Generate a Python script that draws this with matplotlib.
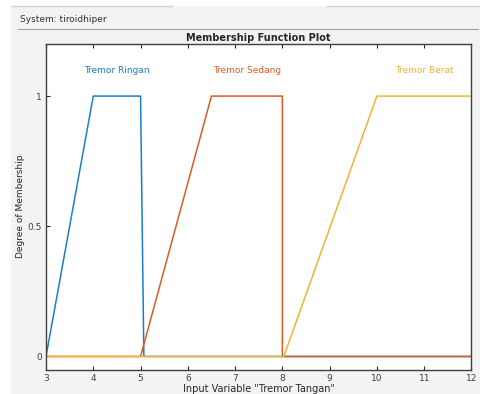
import matplotlib.pyplot as plt
from matplotlib.patches import Rectangle
from matplotlib.lines import Line2D

# membership functions (trapezoid points)
ringan_x = [3, 4, 5, 5.07, 12]
ringan_y = [0, 1, 1, 0, 0]
sedang_x = [3, 5, 6.5, 8, 8, 12]
sedang_y = [0, 0, 1, 1, 0, 0]
berat_x = [3, 8.03, 10, 12]
berat_y = [0, 0, 1, 1]

mf_names = ['Tremor Ringan', 'Tremor Sedang', 'Tremor Berat']
label_x = [4.5, 7.25, 11.0]
colors = ['#1a7fc8', '#db5a26', '#efb52e']

xticks = [3, 4, 5, 6, 7, 8, 9, 10, 11, 12]
yticks = [0, 0.5, 1]
yticklabels = ['0', '0.5', '1']

fig = plt.figure(figsize=(4.81, 3.94), dpi=100)
fig.patch.set_facecolor('white')

# gray panel like the MATLAB tool window
fig.patches.append(Rectangle((11/481, 0), 1, 1 - 6/394, transform=fig.transFigure,
                             facecolor='#f3f3f3', edgecolor='none', zorder=-10))
fig.add_artist(Line2D([11/481, 172/481], [1 - 6/394] * 2, color='#d4d4d4', lw=1))
fig.add_artist(Line2D([327/481, 1], [1 - 6/394] * 2, color='#d4d4d4', lw=1))
fig.add_artist(Line2D([18/481, 478/481], [1 - 29/394] * 2, color='#a0a0a0', lw=0.8))
fig.text(20/481, 1 - 19/394, 'System: tiroidhiper', fontsize=6.5, color='#333333',
         va='center', ha='left')

ax = fig.add_axes([46/481, 1 - 369.5/394, 425.5/481, 325.5/394])
ax.set_facecolor('white')

ax.plot(ringan_x, ringan_y, color=colors[0], lw=1.1)
ax.plot(sedang_x, sedang_y, color=colors[1], lw=1.1)
ax.plot(berat_x, berat_y, color=colors[2], lw=1.1)

for name, lx, c in zip(mf_names, label_x, colors):
    ax.text(lx, 1.1, name, color=c, fontsize=6.5, ha='center', va='center')

ax.set_xlim(3, 12)
ax.set_ylim(-0.05, 1.2)
ax.set_xticks(xticks)
ax.set_yticks(yticks)
ax.set_yticklabels(yticklabels)
ax.tick_params(axis='both', direction='in', length=3, width=0.8, labelsize=6.5,
               colors='#262626', labelcolor='#404040', pad=3)
ax.tick_params(axis='x', top=True)
for s in ax.spines.values():
    s.set_color('#404040')
    s.set_linewidth(1.0)

ax.set_title('Membership Function Plot', fontsize=7, fontweight='bold',
             color='#262626', pad=2)
ax.set_xlabel('Input Variable "Tremor Tangan"', fontsize=7, color='#262626', labelpad=1)
ax.set_ylabel('Degree of Membership', fontsize=6.5, color='#262626', labelpad=2)

plt.savefig('out.png', dpi=100)
